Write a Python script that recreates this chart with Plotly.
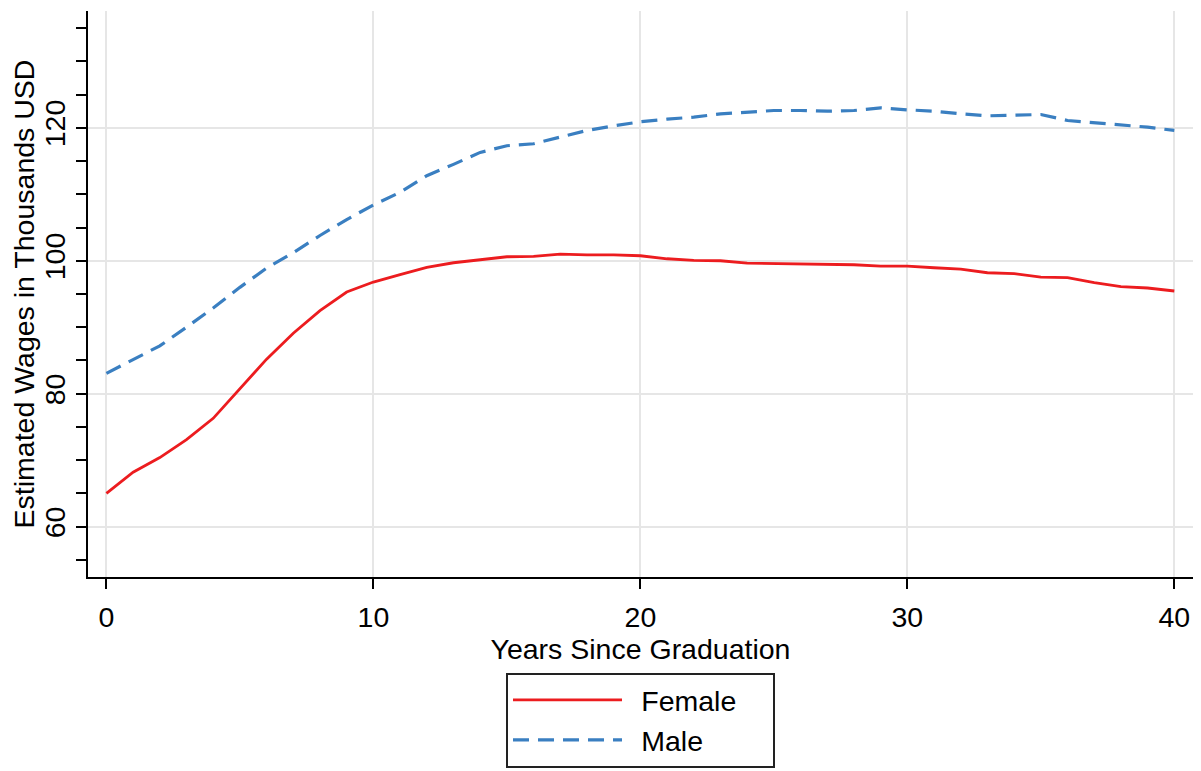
import plotly.graph_objects as go

years = list(range(0, 41))
female = [65.0, 68.2, 70.4, 73.1, 76.3, 80.7, 85.2, 89.1, 92.5, 95.3,
          96.8, 97.9, 99.0, 99.7, 100.1, 100.6, 100.65, 101.0, 100.9, 100.9,
          100.75, 100.3, 100.05, 100.0, 99.65, 99.6, 99.55, 99.45, 99.4, 99.2,
          99.2, 98.95, 98.75, 98.2, 98.05, 97.55, 97.45, 96.7, 96.1, 95.9, 95.45]
male = [83.07, 85.1, 87.2, 90.0, 92.9, 96.0, 98.9, 101.2, 103.8, 106.2,
        108.4, 110.3, 112.8, 114.5, 116.3, 117.3, 117.6, 118.6, 119.6, 120.3,
        120.9, 121.3, 121.6, 122.1, 122.3, 122.6, 122.6, 122.5, 122.6, 123.0,
        122.7, 122.5, 122.1, 121.8, 121.9, 122.0, 121.1, 120.8, 120.4, 120.1, 119.6]

x_ticks = [0, 10, 20, 30, 40]
y_ticks = [60, 80, 100, 120]
series_names = ["Female", "Male"]

FONT = "Liberation Sans, Arial, Helvetica, sans-serif"
FS = 28.5

fig = go.Figure()
fig.add_trace(go.Scatter(x=years, y=female, mode="lines",
                         name="\u2002" + series_names[0] + "\u00a0\u00a0\u00a0\u00a0",
                         line=dict(color="#ec1c1f", width=2.8)))
fig.add_trace(go.Scatter(x=years, y=male, mode="lines",
                         name="\u2002" + series_names[1],
                         line=dict(color="#3a7fc1", width=3.2, dash="16px,9px")))

# page body has an 8px default margin; figure sized to fill the rest of the window
fig.update_layout(
    width=1193, height=763,
    margin=dict(l=80, r=8, t=3, b=187),
    plot_bgcolor="white", paper_bgcolor="white",
    font=dict(family=FONT, size=FS, color="black"),
    showlegend=True,
    legend=dict(x=0.5, xanchor="center", y=-0.1693, yanchor="top",
                orientation="v", bordercolor="#222222", borderwidth=2,
                bgcolor="white", itemwidth=109,
                font=dict(family=FONT, size=FS, color="black"),
                tracegroupgap=0),
    xaxis=dict(range=[-0.69, 40.7], tickvals=x_ticks, ticktext=[str(v) for v in x_ticks],
               showgrid=True, gridcolor="#e6e6e6", gridwidth=1.5,
               showline=True, linecolor="black", linewidth=2,
               ticks="outside", ticklen=10, tickwidth=2, tickcolor="black",
               ticklabelstandoff=4,
               zeroline=False, automargin=False,
               title=dict(text="Years Since Graduation", font=dict(family=FONT, size=FS), standoff=6)),
    yaxis=dict(range=[52.43, 137.57], tickvals=y_ticks, ticktext=[str(v) for v in y_ticks],
               tickangle=-90,
               showgrid=True, gridcolor="#e6e6e6", gridwidth=1.5,
               showline=True, linecolor="black", linewidth=2,
               ticks="outside", ticklen=10, tickwidth=2, tickcolor="black",
               zeroline=False, automargin=False,
               minor=dict(tick0=0, dtick=5, ticks="outside", ticklen=10, tickwidth=2,
                          tickcolor="black", showgrid=False),
               title=dict(text="Estimated Wages in Thousands USD", font=dict(family=FONT, size=FS), standoff=0)),
)

fig.write_html("out.html")
